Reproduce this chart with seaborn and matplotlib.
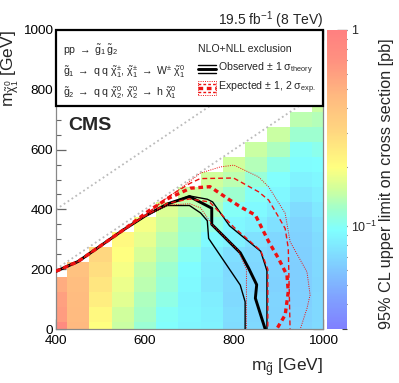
import numpy as np
import pandas as pd
import matplotlib
matplotlib.use("Agg")
import matplotlib.pyplot as plt
import seaborn as sns
from matplotlib.colors import LinearSegmentedColormap, LogNorm
from matplotlib.ticker import MultipleLocator, FixedLocator, NullFormatter
from matplotlib.lines import Line2D
from matplotlib.patches import Rectangle

# ---------------- data ----------------
gluino_mass = [400, 450, 500, 550, 600, 650, 700, 750, 800, 850, 900, 950, 1000]
lsp_mass = [0, 50, 100, 150, 200, 250, 300, 350, 400, 450, 500, 550, 600, 650, 700, 750]

# 95% CL upper limit [pb], per gluino-mass column, from lsp mass 0 upward
xs_400 = [0.80, 0.62, 0.60, 0.53]
xs_450 = [0.46, 0.45, 0.44, 0.43, 0.41]
xs_500 = [0.20, 0.21, 0.24, 0.26, 0.28, 0.30]
xs_550 = [0.150, 0.155, 0.170, 0.180, 0.190, 0.200, 0.210]
xs_600 = [0.118, 0.125, 0.130, 0.140, 0.145, 0.160, 0.175, 0.190]
xs_650 = [0.097, 0.100, 0.108, 0.115, 0.120, 0.130, 0.140, 0.155, 0.165]
xs_700 = [0.089, 0.090, 0.089, 0.091, 0.094, 0.102, 0.115, 0.120, 0.140, 0.150]
xs_750 = [0.087, 0.085, 0.083, 0.079, 0.081, 0.083, 0.092, 0.108, 0.130, 0.140, 0.155]
xs_800 = [0.072, 0.073, 0.071, 0.072, 0.071, 0.074, 0.085, 0.090, 0.100, 0.120, 0.140, 0.155]
xs_850 = [0.070, 0.069, 0.070, 0.068, 0.069, 0.071, 0.075, 0.085, 0.092, 0.100, 0.115, 0.135, 0.150]
xs_900 = [0.068, 0.067, 0.068, 0.066, 0.067, 0.068, 0.069, 0.075, 0.083, 0.090, 0.097, 0.108, 0.130, 0.150]
xs_950 = [0.067, 0.066, 0.065, 0.064, 0.064, 0.065, 0.066, 0.068, 0.072, 0.080, 0.087, 0.094, 0.100, 0.120, 0.140]
xs_1000 = [0.071, 0.070, 0.070, 0.069, 0.070, 0.071, 0.072, 0.075, 0.080, 0.085, 0.090, 0.095, 0.105, 0.120, 0.135, 0.150]

# exclusion contours (gluino mass, lsp mass)
obs_x = [400, 450, 500, 550, 600, 650, 700, 750, 750, 814, 833, 851, 848, 870]
obs_y = [193, 226, 278, 330, 378, 418, 443, 404, 350, 255, 203, 148, 103, 0]
obs_up_x = [400, 450, 500, 550, 600, 650, 700, 740, 752, 790, 860, 874, 874]
obs_up_y = [193, 226, 278, 330, 378, 418, 445, 434, 425, 345, 260, 195, 0]
obs_dn_x = [400, 450, 500, 550, 600, 650, 700, 725, 740, 743, 814, 825, 825]
obs_dn_y = [193, 226, 278, 330, 378, 413, 413, 388, 362, 303, 147, 91, 0]
exp_x = [400, 450, 500, 550, 611, 650, 702, 746, 791, 814, 848, 878, 900, 919, 922, 915, 896]
exp_y = [193, 226, 278, 330, 398, 435, 471, 476, 431, 409, 381, 292, 236, 180, 125, 47, 0]
exp_up_x = [400, 450, 500, 550, 600, 650, 701, 724, 799, 855, 878, 900, 915, 922, 926]
exp_up_y = [193, 226, 278, 330, 380, 440, 487, 503, 505, 459, 431, 375, 336, 270, 0]
exp_up2_x = [400, 450, 500, 550, 600, 650, 680, 724, 769, 800, 855, 878, 915, 926, 964, 971, 964, 949]
exp_up2_y = [193, 226, 278, 330, 380, 440, 470, 521, 542, 548, 509, 475, 387, 292, 191, 114, 69, 0]
exp_dn_x = [400, 450, 500, 550, 600, 650, 700, 745, 800, 860, 876, 876]
exp_dn_y = [193, 226, 278, 330, 378, 420, 435, 425, 340, 262, 200, 0]
exp_dn2_x = [400, 450, 500, 550, 600, 650, 700, 725, 750, 810, 828, 828]
exp_dn2_y = [193, 226, 278, 330, 378, 414, 419, 405, 350, 262, 200, 0]

# ---------------- style ----------------
sns.set_theme(style="ticks")
plt.rcParams["font.family"] = ["Liberation Sans", "DejaVu Sans"]
plt.rcParams["mathtext.fontset"] = "custom"
plt.rcParams["mathtext.rm"] = "Liberation Sans"
plt.rcParams["mathtext.it"] = "Liberation Sans"
plt.rcParams["mathtext.bf"] = "Liberation Sans:bold"
plt.rcParams["mathtext.fallback"] = "stixsans"

anchors = [
    (0.00, (128, 128, 255)),
    (0.10, (128, 160, 255)),
    (0.20, (128, 200, 255)),
    (0.33, (128, 255, 255)),
    (0.40, (160, 255, 205)),
    (0.47, (210, 255, 155)),
    (0.54, (255, 255, 128)),
    (0.66, (255, 215, 128)),
    (0.78, (255, 185, 128)),
    (0.90, (255, 145, 128)),
    (1.00, (255, 128, 128)),
]
cmap = LinearSegmentedColormap.from_list(
    "pastel_rainbow", [(p, tuple(c / 255 for c in col)) for p, col in anchors], N=256)
norm = LogNorm(vmin=0.03, vmax=1.0)

columns = [xs_400, xs_450, xs_500, xs_550, xs_600, xs_650, xs_700, xs_750,
           xs_800, xs_850, xs_900, xs_950, xs_1000]
grid = np.full((len(lsp_mass), len(gluino_mass)), np.nan)
for j, col in enumerate(columns):
    grid[:len(col), j] = col
grid = np.ma.masked_invalid(grid)

xc = np.array(gluino_mass, dtype=float)
yc = np.array(lsp_mass, dtype=float)
xe = np.concatenate([xc - 25, [xc[-1] + 25]])
ye = np.concatenate([yc - 25, [yc[-1] + 25]])

W, H = 399, 383
fig = plt.figure(figsize=(W / 100, H / 100), dpi=100)
ax = fig.add_axes([56 / W, 1 - 329 / H, 267 / W, 299 / H])
cax = fig.add_axes([327 / W, 1 - 329 / H, 20 / W, 299 / H])

mesh = ax.pcolormesh(xe, ye, grid, cmap=cmap, norm=norm, shading="flat",
                     edgecolors="none", zorder=1)

# kinematic diagonals
ax.plot([400, 1000], [400, 1000], color="#bbbbbb", ls=(0, (1, 1.6)), lw=1.3, zorder=2)
ax.plot([400, 1000], [200, 800], color="#bbbbbb", ls=(0, (1, 1.6)), lw=1.3, zorder=2)

def draw(xv, yv, color, lw, dashes=None, z=3):
    df = pd.DataFrame({"x": xv, "y": yv})
    n0 = len(ax.lines)
    sns.lineplot(data=df, x="x", y="y", sort=False, estimator=None, ax=ax,
                 color=color, lw=lw, zorder=z, legend=False)
    ln = ax.lines[n0]
    if dashes is not None:
        ln.set_dashes(dashes)
    return ln

red = "#ee1111"
draw(obs_up_x, obs_up_y, "black", 1.0, z=3)
draw(obs_dn_x, obs_dn_y, "black", 1.0, z=3)
draw(obs_x, obs_y, "black", 2.1, z=3)
draw(exp_up2_x, exp_up2_y, red, 0.7, dashes=(1, 1.3), z=4)
draw(exp_dn2_x, exp_dn2_y, red, 0.7, dashes=(1, 1.3), z=4)
draw(exp_up_x, exp_up_y, red, 1.0, dashes=(3.5, 2.2), z=4)
draw(exp_dn_x, exp_dn_y, red, 1.0, dashes=(3.5, 2.2), z=4)
draw(exp_x, exp_y, red, 2.4, dashes=(1.4, 1.1), z=5)

ax.set_xlim(400, 1000)
ax.set_ylim(0, 1000)
ax.set_xlabel("")
ax.set_ylabel("")
ax.xaxis.set_major_locator(FixedLocator([400, 600, 800, 1000]))
ax.yaxis.set_major_locator(FixedLocator([0, 200, 400, 600, 800, 1000]))
ax.xaxis.set_minor_locator(MultipleLocator(50))
ax.yaxis.set_minor_locator(MultipleLocator(50))
ax.tick_params(which="both", direction="in", top=True, right=True, color="#666666",
               labelsize=9.7, labelcolor="black")
ax.tick_params(which="major", length=7, width=0.9)
ax.tick_params(which="minor", length=3.5, width=0.8)
ax.tick_params(axis="x", pad=4.5)
ax.tick_params(axis="y", pad=2)
for s in ax.spines.values():
    s.set_color("#888888")
    s.set_linewidth(0.9)

# colorbar
cb = fig.colorbar(mesh, cax=cax)
cb.outline.set_visible(False)
cax.yaxis.set_major_locator(FixedLocator([0.1, 1.0]))
cax.yaxis.set_minor_locator(FixedLocator([0.03, 0.04, 0.05, 0.06, 0.07, 0.08, 0.09,
                                          0.2, 0.3, 0.4, 0.5, 0.6, 0.7, 0.8, 0.9]))
cax.yaxis.set_minor_formatter(NullFormatter())
cax.set_yticklabels(["10$^{-1}$", "1"])
cax.tick_params(which="both", direction="in", right=True, left=False, color="#444444",
                labelsize=9, pad=3)
cax.tick_params(which="major", length=7, width=0.9)
cax.tick_params(which="minor", length=3.5, width=0.8)

# legend box over the top of the plot
ybox = (329 - 106) / 299
ax.add_patch(Rectangle((0, ybox), 1, 1 - ybox, transform=ax.transAxes, facecolor="white",
                       edgecolor="black", lw=1.6, zorder=10, clip_on=False))
tk = dict(transform=ax.transAxes, zorder=11, fontsize=7.6, va="center", ha="left")
ax.text(0.026, 0.933, r"pp $\rightarrow$ $\tilde{\mathrm{g}}_{1}\,\tilde{\mathrm{g}}_{2}$", **tk)
ax.text(0.026, 0.860, r"$\tilde{\mathrm{g}}_{1}$ $\rightarrow$ q q $\tilde{\chi}^{\pm}_{1}$, "
        r"$\tilde{\chi}^{\pm}_{1}$ $\rightarrow$ W$^{\pm}$ $\tilde{\chi}^{0}_{1}$", **tk)
ax.text(0.026, 0.790, r"$\tilde{\mathrm{g}}_{2}$ $\rightarrow$ q q $\tilde{\chi}^{0}_{2}$, "
        r"$\tilde{\chi}^{0}_{2}$ $\rightarrow$ h $\tilde{\chi}^{0}_{1}$", **tk)
ax.text(0.532, 0.936, "NLO+NLL exclusion", **tk)
ax.text(0.607, 0.870, r"Observed $\pm$ 1 $\sigma_{\mathrm{theory}}$", **tk)
ax.text(0.607, 0.806, r"Expected $\pm$ 1, 2 $\sigma_{\mathrm{exp.}}$", **tk)

lx = [0.533, 0.600]
for dy, lw in [(0.0, 2.1), (0.0125, 1.0), (-0.0125, 1.0)]:
    ax.add_line(Line2D(lx, [0.870 + dy] * 2, color="black", lw=lw, transform=ax.transAxes,
                       zorder=11, clip_on=False))
ax.add_line(Line2D(lx, [0.806] * 2, color=red, lw=2.4, dashes=(1.4, 1.1),
                   transform=ax.transAxes, zorder=11, clip_on=False))
for dy in (0.0125, -0.0125):
    ax.add_line(Line2D(lx, [0.806 + dy] * 2, color=red, lw=1.0, dashes=(2.0, 1.5),
                       transform=ax.transAxes, zorder=11, clip_on=False))
ax.add_patch(Rectangle((lx[0], 0.806 - 0.025), lx[1] - lx[0], 0.05, transform=ax.transAxes,
                       facecolor="none", edgecolor=red, lw=0.7, ls=(0, (1, 1.3)),
                       zorder=11, clip_on=False))

ax.text(0.045, 0.682, "CMS", transform=ax.transAxes, fontsize=14, fontweight="bold",
        va="center", ha="left", zorder=11)

# labels
fig.text(323 / W, 1 - 25 / H, r"19.5 fb$^{-1}$ (8 TeV)", ha="right", va="baseline", fontsize=10)
fig.text(323 / W, 1 - 371 / H, r"m$_{\tilde{\mathrm{g}}}$ [GeV]", ha="right", va="baseline",
         fontsize=12.5)
fig.text(10 / W, 1 - 30 / H, r"m$_{\tilde{\chi}^{0}_{1}}$ [GeV]", ha="center", va="top",
         rotation=90, fontsize=12.5)
fig.text(387 / W, 1 - 38 / H, "95% CL upper limit on cross section [pb]", ha="center",
         va="top", rotation=90, fontsize=11.7)

fig.savefig("out.png", dpi=100)
